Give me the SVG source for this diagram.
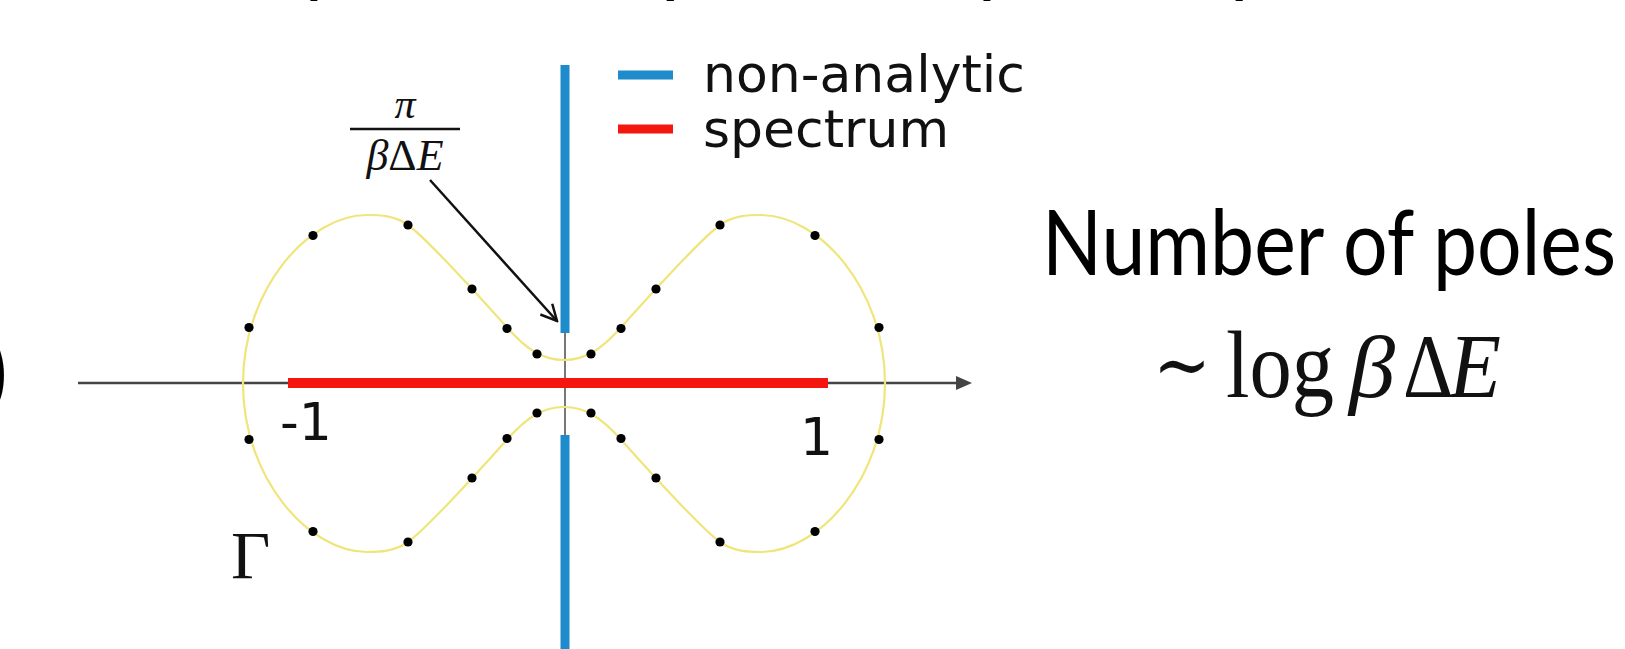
<svg xmlns="http://www.w3.org/2000/svg" xmlns:xlink="http://www.w3.org/1999/xlink" width="1625" height="649" viewBox="0 0 1625 649">
<style>
.slide{font-family:Lato,"Open Sans","Liberation Sans",sans-serif;fill:#000}
.mpl{font-family:"DejaVu Sans",sans-serif;font-size:52px;fill:#111}
.math{font-family:"Liberation Serif","DejaVu Serif",serif;fill:#111}
.it{font-style:italic}
.pole{fill:#000}
.curve{fill:none;stroke:#efe57a;stroke-width:2.2;stroke-linecap:round}
</style>
<defs>
<marker id="openhead" viewBox="0 0 20 20" refX="18" refY="10" markerWidth="20" markerHeight="20" markerUnits="userSpaceOnUse" orient="auto">
<path d="M2,2 L18,10 L2,18" fill="none" stroke="#111" stroke-width="2.5"/>
</marker>
<marker id="axishead" viewBox="0 0 16 14" refX="2" refY="7" markerWidth="16" markerHeight="14" markerUnits="userSpaceOnUse" orient="auto">
<path d="M0,0 L16,7 L0,14 Z" fill="#444"/>
</marker>
<path id="quad" d="M0,-23.5 C22,-23.5 38,-35 56,-55 C80,-81.5 134,-142.5 156,-158.5 C169,-168 185,-168.5 197,-168.5 C255,-168.5 321,-95 321,0"/>
</defs>
<rect width="1625" height="649" fill="#fff"/>

<g id="title" class="slide" font-size="91">
<text x="47" y="-15" textLength="250" lengthAdjust="spacingAndGlyphs">Fermi o</text>
<text x="305" y="-15" textLength="345" lengthAdjust="spacingAndGlyphs">perator ex</text>
<text x="661" y="-15" textLength="275" lengthAdjust="spacingAndGlyphs">pansion</text>
<text x="956" y="-15" textLength="20" lengthAdjust="spacingAndGlyphs">(</text>
<text x="978" y="-15" textLength="245" lengthAdjust="spacingAndGlyphs">pole ex</text>
<text x="1230" y="-15" textLength="272" lengthAdjust="spacingAndGlyphs">pansion</text>
<text x="1510" y="-15" textLength="22" lengthAdjust="spacingAndGlyphs">)</text>
</g>
<g id="left-text">
<text class="slide" font-size="91" x="8" y="404" text-anchor="end">)</text>
</g>

<g id="connectors">
<line x1="78" y1="383" x2="958" y2="383" stroke="#444" stroke-width="2.5" marker-end="url(#axishead)"/>
<line x1="565" y1="65" x2="565" y2="649" stroke="#777" stroke-width="2"/>
<g id="contour" class="curve" transform="translate(564,383.5)">
<use xlink:href="#quad"/>
<use xlink:href="#quad" transform="scale(-1,1)"/>
<use xlink:href="#quad" transform="scale(1,-1)"/>
<use xlink:href="#quad" transform="scale(-1,-1)"/>
</g>
<line x1="288" y1="383" x2="828" y2="383" stroke="#f5170f" stroke-width="10"/>
<line x1="565" y1="65" x2="565" y2="333" stroke="#1e8bcd" stroke-width="9"/>
<line x1="565" y1="435" x2="565" y2="649" stroke="#1e8bcd" stroke-width="9"/>
<line x1="430" y1="180" x2="557" y2="321" stroke="#111" stroke-width="2.5" marker-end="url(#openhead)"/>
</g>

<g id="poles" class="pole">
<circle cx="537" cy="354" r="4.6"/><circle cx="507" cy="328.5" r="4.6"/><circle cx="472" cy="289" r="4.6"/><circle cx="408" cy="225" r="4.6"/><circle cx="313" cy="235.5" r="4.6"/><circle cx="249" cy="327.5" r="4.6"/>
<circle cx="591" cy="354" r="4.6"/><circle cx="621" cy="328.5" r="4.6"/><circle cx="656" cy="289" r="4.6"/><circle cx="720" cy="225" r="4.6"/><circle cx="815" cy="235.5" r="4.6"/><circle cx="879" cy="327.5" r="4.6"/>
<circle cx="537" cy="413" r="4.6"/><circle cx="507" cy="438.5" r="4.6"/><circle cx="472" cy="478" r="4.6"/><circle cx="408" cy="542" r="4.6"/><circle cx="313" cy="531.5" r="4.6"/><circle cx="249" cy="439.5" r="4.6"/>
<circle cx="591" cy="413" r="4.6"/><circle cx="621" cy="438.5" r="4.6"/><circle cx="656" cy="478" r="4.6"/><circle cx="720" cy="542" r="4.6"/><circle cx="815" cy="531.5" r="4.6"/><circle cx="879" cy="439.5" r="4.6"/>
</g>

<g id="legend">
<line x1="618" y1="75" x2="673" y2="75" stroke="#1e8bcd" stroke-width="9"/>
<line x1="618" y1="129" x2="673" y2="129" stroke="#f5170f" stroke-width="9"/>
<text class="mpl" x="703" y="92">non-analytic</text>
<text class="mpl" x="703" y="147">spectrum</text>
</g>

<g id="axis-labels">
<text class="mpl" x="280" y="440">-1</text>
<text class="mpl" x="800" y="455">1</text>
<text class="math" font-size="68" x="231" y="578">Γ</text>
</g>

<g id="gap-label">
<text class="math it" font-size="42" x="405" y="118" text-anchor="middle">π</text>
<line x1="350" y1="129" x2="460" y2="129" stroke="#111" stroke-width="2.5"/>
<text class="math" font-size="44" x="405" y="170" text-anchor="middle"><tspan class="it">β</tspan>Δ<tspan class="it">E</tspan></text>
</g>

<g id="note">
<text class="slide" font-size="91" x="1329" y="275" text-anchor="middle" textLength="574" lengthAdjust="spacingAndGlyphs">Number of poles</text>
<text class="math" font-size="80" x="1153" y="392" textLength="58" lengthAdjust="spacingAndGlyphs">∼</text>
<text class="math" font-size="96" x="1226" y="397" textLength="108" lengthAdjust="spacingAndGlyphs">log</text>
<text class="math it" font-size="88" x="1349" y="397" textLength="46" lengthAdjust="spacingAndGlyphs">β</text>
<text class="math" font-size="92" x="1403" y="397" textLength="50" lengthAdjust="spacingAndGlyphs">Δ</text>
<text class="math it" font-size="92" x="1449" y="397" textLength="52" lengthAdjust="spacingAndGlyphs">E</text>
</g>
</svg>
